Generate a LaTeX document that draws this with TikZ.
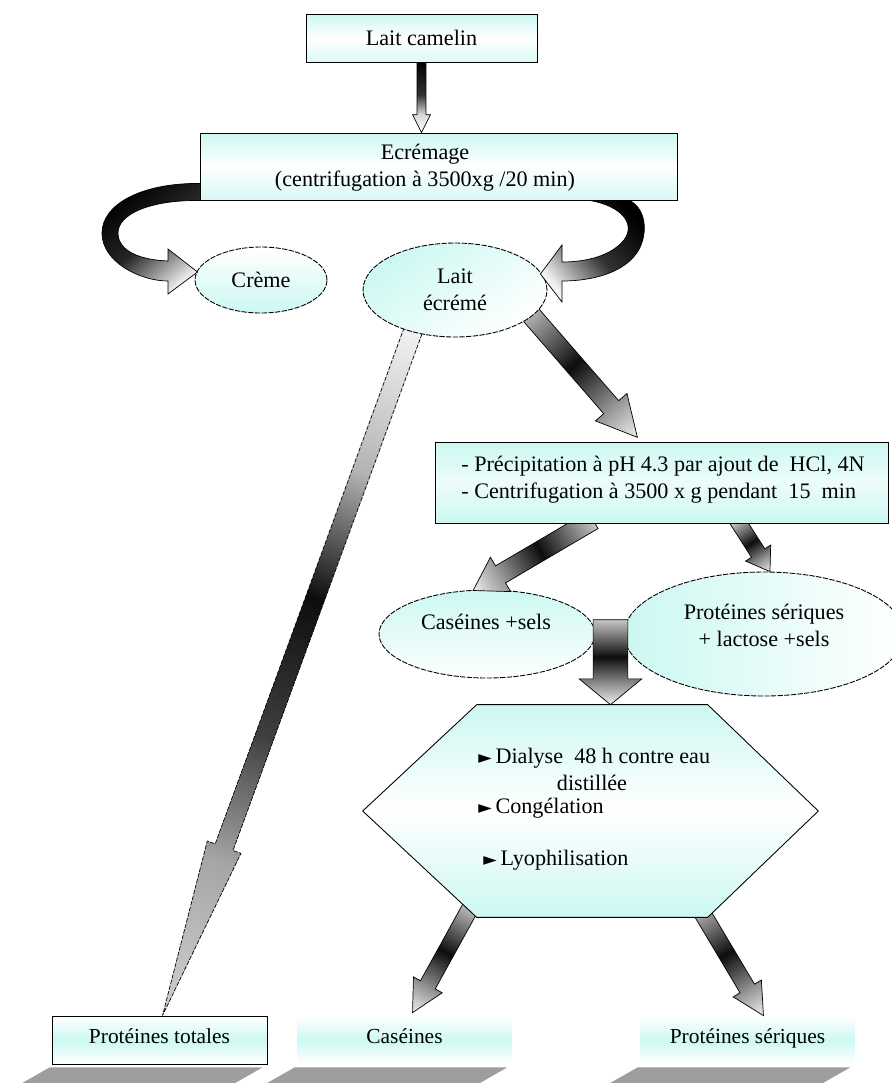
\documentclass[tikz,border=0pt]{standalone}
\usepackage{fontspec}
\setmainfont{Liberation Serif}
\newfontfamily\symfont{DejaVu Sans}
\usetikzlibrary{calc,shapes.geometric}
\definecolor{aqua}{RGB}{204,248,242}
\pgfdeclarehorizontalshading{middark}{100bp}{color(0bp)=(black!22); color(25bp)=(black!22); color(47bp)=(black!95); color(64bp)=(black!40); color(75bp)=(black!6); color(100bp)=(black!6)}
\pgfdeclarehorizontalshading{topdark}{100bp}{color(0bp)=(black); color(25bp)=(black); color(48bp)=(black!80); color(62bp)=(black!15); color(75bp)=(white); color(100bp)=(white)}
\pgfdeclarehorizontalshading{longdark}{100bp}{color(0bp)=(black!3); color(25bp)=(black!3); color(36bp)=(black!30); color(45bp)=(black!95); color(55bp)=(black!75); color(64bp)=(black!35); color(75bp)=(black!18); color(100bp)=(black!18)}
% block arrow: #1 tail, #2 tip, #3 shaft width (pt), #4 head width (pt), #5 head length (pt), #6 style
\newcommand\blockarrow[6]{%
  \path let \p1=(#1), \p2=(#2) in \pgfextra{%
    \pgfmathsetmacro\tmpa{atan2(\y2-\y1,\x2-\x1)}\xdef\baang{\tmpa}%
    \pgfmathsetmacro\tmpb{veclen(\x2-\x1,\y2-\y1)}\xdef\balen{\tmpb}%
    \pgfmathsetmacro\tmpc{\x1}\xdef\bax{\tmpc}%
    \pgfmathsetmacro\tmpd{\y1}\xdef\bay{\tmpd}};
  \begin{scope}[transform canvas={shift={(\bax pt,\bay pt)},rotate=\baang}, x=1pt, y=1pt]
    \pgfmathsetmacro\bab{\balen-#5}
    \shadedraw[#6] (0,-#3/2) -- (\bab,-#3/2) -- (\bab,-#4/2) -- (\balen,0) -- (\bab,#4/2) -- (\bab,#3/2) -- (0,#3/2) -- cycle;
  \end{scope}}
\newcommand\tri{{\symfont\fontsize{10}{10}\selectfont ►}\,}
\begin{document}
\begin{tikzpicture}[x=0.02cm, y=-0.02cm,
  every node/.style={font=\fontsize{12.6}{15.3}\selectfont, align=center},
  box/.style={draw, line width=0.5pt, inner sep=0pt},
  ell/.style={draw, ellipse, line width=0.5pt, dash pattern=on 3pt off 0.8pt, inner sep=0pt},
  lbl/.style={inner sep=0pt},
  arr/.style={shading=middark, draw, line width=0.4pt},
  botbox/.style={inner sep=0pt, minimum width=4.3cm, minimum height=0.96cm, text height=1.7ex, text depth=0.9ex, top color=white, bottom color=white, middle color=aqua, font=\fontsize{12.2}{14}\selectfont},
  shadow/.style={fill=black!38}]
\useasboundingbox (0,0) rectangle (892,1083);
\fill[white] (0,0) rectangle (892,1083);

% ---------- bottom boxes ----------
\node[botbox, draw, line width=0.5pt] (ptot) at (159.5,1040) {Protéines totales};
\node[botbox] (cas2) at (404.5,1040) {Caséines};
\node[botbox] (ser2) at (747.5,1040) {Protéines sériques};
\foreach \b in {ptot,cas2,ser2}{
  \fill[shadow] ($(\b.south west)+(-2,3)$) -- ($(\b.south east)+(-5,3)$) -- ($(\b.south east)+(-33,19)$) -- ($(\b.south west)+(-30,19)$) -- cycle;}

% ---------- ellipses after precipitation ----------
\node[ell, minimum width=4.32cm, minimum height=1.76cm, top color=aqua, bottom color=white] (cas) at (487,634) {};
\node[lbl] (castxt) at (486,622) {Caséines +sels};
\node[ell, minimum width=5.6cm, minimum height=2.48cm, left color=aqua, right color=white] (ser) at (764,634) {};
\node[lbl] (sertxt) at (764,625) {Protéines sériques\\+ lactose +sels};

% ---------- hexagon ----------
\node[inner sep=0pt, minimum width=9.1cm, minimum height=4.24cm] (hex) at (590.5,811) {};
\blockarrow{$(hex.south west)+(109,-12)$}{$(cas2.north)+(8,-3)$}{9.6}{18.7}{18}{arr}
\blockarrow{$(hex.south west)+(335,-12)$}{$(ser2.north)+(16,0)$}{9.6}{18.7}{18}{arr}
\shadedraw[top color=aqua, bottom color=aqua, middle color=white, line width=0.5pt]
  (hex.west) -- ($(hex.north west)+(114,0)$) -- ($(hex.north west)+(345,0)$) -- (hex.east)
  -- ($(hex.south west)+(345,0)$) -- ($(hex.south west)+(114,0)$) -- cycle;
\node[lbl, anchor=west] (h1) at (478,758) {\tri Dialyse\ \ 48 h contre eau};
\node[lbl] (h2) at (592,783) {distillée};
\node[lbl, anchor=west] (h3) at (478,808) {\tri Congélation};
\node[lbl, anchor=west] (h4) at (483,860) {\tri Lyophilisation};

% big arrow between the two ellipses
\blockarrow{$(hex.north)+(20,-85)$}{$(hex.north)+(20,0)$}{19.8}{35.7}{14.7}{arr}

% ---------- precipitation box ----------
\coordinate (pnw) at (435,442);
\blockarrow{$(pnw)+(158,78)$}{$(cas.north)+(-14,1)$}{11.3}{22.7}{18.1}{arr}
\blockarrow{$(pnw)+(302,78)$}{$(ser.north)+(6,0)$}{9}{17}{12.5}{arr}
\node[box, minimum width=9.06cm, minimum height=1.62cm, top color=aqua, bottom color=aqua, middle color=aqua!35] (precip) at (661.5,482.5) {};
\node[lbl, anchor=west, align=left] (prect) at (461,480) {- Précipitation à pH 4.3 par ajout de\ \ HCl, 4N\\- Centrifugation à 3500 x g pendant\ \ 15\ \ min};

% ---------- Lait écrémé and its outgoing arrows ----------
\coordinate (ecc) at (455,290);
\blockarrow{$(ecc)+(-38,30)$}{$(ptot.north)+(3,0)$}{10.8}{20.4}{102}{shading=longdark, draw, line width=0.4pt, dash pattern=on 2.5pt off 0.8pt}
\blockarrow{$(ecc)+(70,18)$}{$(precip.north west)+(203,-4)$}{11.3}{23.8}{22.7}{arr}
\node[ell, minimum width=3.68cm, minimum height=1.88cm, top color=aqua, bottom color=white, shading angle=35] (ecreme) at (ecc) {Lait\\écrémé};
\node[ell, minimum width=2.64cm, minimum height=1.32cm, top color=white, bottom color=aqua] (creme) at (261,280) {Crème};

% ---------- top ----------
\node[box, minimum width=4.62cm, minimum height=0.96cm, top color=aqua, bottom color=aqua!70, middle color=white] (lait) at (421.5,38) {Lait camelin};
\node[box, minimum width=9.54cm, minimum height=1.34cm, top color=aqua, bottom color=aqua!80, middle color=white] (ecr) at (438.5,166.5) {};
\node[lbl] (ecrt) at (425,168) {Ecrémage\\(centrifugation à 3500xg /20 min)};
\blockarrow{lait.south}{lait.south |- ecr.north}{5.1}{10.2}{10.2}{shading=topdark, draw, line width=0.4pt}

% curved arrow to Crème
\shadedraw[top color=black, bottom color=black!8, middle color=black!85, shading angle=40, line width=0.4pt]
  ($(ecr.south west)+(0,-17)$) .. controls (140,183) and (102,205) .. (102,233)
  .. controls (102,262) and (140,281) .. (168,281) -- (168,294) -- ($(creme.west)+(3,-8)$)
  -- (168,249) -- (168,261) .. controls (142,260) and (118,252) .. (118,233)
  .. controls (118,214) and (150,200) .. (ecr.south west) -- cycle;
% curved arrow to Lait écrémé
\shadedraw[top color=black, bottom color=black!5, middle color=black!80, shading angle=-50, line width=0.4pt]
  ($(ecr.south west)+(390,0)$) -- ($(ecr.south west)+(430,0)$) .. controls (648,210) and (648,238) .. (636,254)
  .. controls (622,273) and (592,281) .. (562,281) -- (562,302) -- ($(ecreme.east)+(-7,-16)$)
  -- (562,245) -- (562,262) .. controls (588,262) and (612,255) .. (624,240)
  .. controls (636,224) and (622,206) .. ($(ecr.south west)+(390,0)$) -- cycle;
\end{tikzpicture}
\end{document}
